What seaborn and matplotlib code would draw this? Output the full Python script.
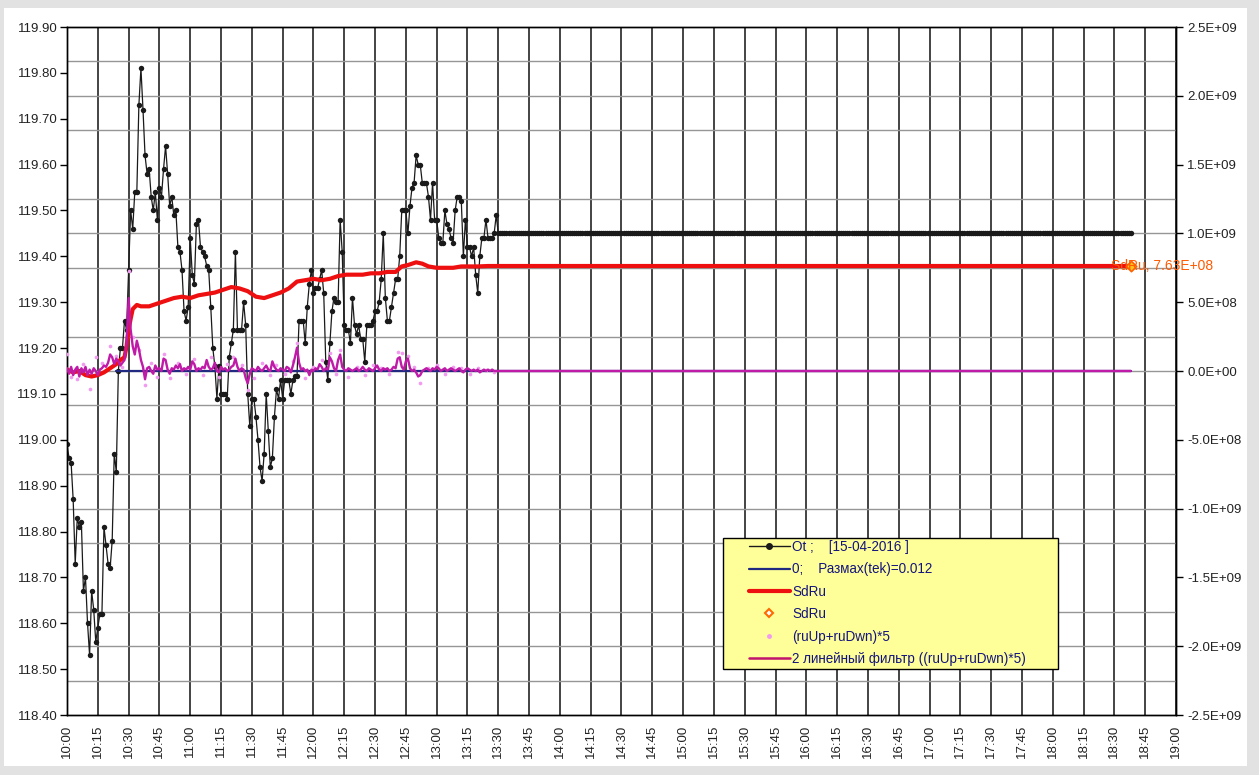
import numpy as np
import matplotlib
matplotlib.use("Agg")
import matplotlib.pyplot as plt
from matplotlib.ticker import MultipleLocator, FixedLocator, FuncFormatter
from matplotlib.lines import Line2D
from matplotlib.patches import Rectangle
import seaborn as sns

sns.set_style("white")
plt.rcParams["font.family"] = ["Liberation Sans", "DejaVu Sans"]

# ---- time axis: minutes since 10:00 -------------------------------------
tick_minutes = list(range(0, 541, 15))
tick_labels = ["10:00", "10:15", "10:30", "10:45", "11:00", "11:15", "11:30", "11:45",
               "12:00", "12:15", "12:30", "12:45", "13:00", "13:15", "13:30", "13:45",
               "14:00", "14:15", "14:30", "14:45", "15:00", "15:15", "15:30", "15:45",
               "16:00", "16:15", "16:30", "16:45", "17:00", "17:15", "17:30", "17:45",
               "18:00", "18:15", "18:30", "18:45", "19:00"]

# ---- Ot: one value per minute, 10:00 .. 13:30 ---------------------------
ot_session = [
    118.99, 118.96, 118.95, 118.87, 118.73, 118.83, 118.81, 118.82, 118.67, 118.70,
    118.60, 118.53, 118.67, 118.63, 118.56, 118.59, 118.62, 118.62, 118.81, 118.77,
    118.73, 118.72, 118.78, 118.97, 118.93, 119.15, 119.20, 119.20, 119.26, 119.24,
    119.37, 119.50, 119.46, 119.54, 119.54, 119.73, 119.81, 119.72, 119.62, 119.58,
    119.59, 119.53, 119.50, 119.54, 119.48, 119.55, 119.53, 119.59, 119.64, 119.58,
    119.51, 119.53, 119.49, 119.50, 119.42, 119.41, 119.37, 119.28, 119.26, 119.29,
    119.44, 119.36, 119.34, 119.47, 119.48, 119.42, 119.41, 119.40, 119.38, 119.37,
    119.29, 119.20, 119.16, 119.09, 119.16, 119.10, 119.10, 119.10, 119.09, 119.18,
    119.21, 119.24, 119.41, 119.24, 119.24, 119.24, 119.30, 119.25, 119.10, 119.03,
    119.09, 119.09, 119.05, 119.00, 118.94, 118.91, 118.97, 119.10, 119.02, 118.94,
    118.96, 119.05, 119.11, 119.09, 119.13, 119.09, 119.13, 119.13, 119.13, 119.10,
    119.13, 119.14, 119.14, 119.26, 119.26, 119.26, 119.21, 119.29, 119.34, 119.37,
    119.32, 119.33, 119.33, 119.35, 119.37, 119.32, 119.17, 119.13, 119.21, 119.28,
    119.31, 119.30, 119.30, 119.48, 119.41, 119.25, 119.24, 119.24, 119.21, 119.31,
    119.25, 119.23, 119.25, 119.22, 119.22, 119.17, 119.25, 119.25, 119.25, 119.26,
    119.28, 119.28, 119.30, 119.35, 119.45, 119.31, 119.26, 119.26, 119.29, 119.32,
    119.35, 119.35, 119.40, 119.50, 119.50, 119.50, 119.45, 119.51, 119.55, 119.56,
    119.62, 119.60, 119.60, 119.56, 119.56, 119.56, 119.53, 119.48, 119.56, 119.48,
    119.48, 119.44, 119.43, 119.43, 119.50, 119.47, 119.46, 119.44, 119.43, 119.50,
    119.53, 119.53, 119.52, 119.40, 119.48, 119.42, 119.42, 119.40, 119.42, 119.36,
    119.32, 119.40, 119.44, 119.44, 119.48, 119.44, 119.44, 119.44, 119.45, 119.49,
    119.45,
]
last_minute = 518          # 18:38, end of the projected tail
ot_tail_value = 119.45
ot_values = ot_session + [ot_tail_value] * (last_minute - (len(ot_session) - 1))
ot_minutes = list(range(0, last_minute + 1))

# ---- SdRu (right axis, units of 1e8) -------------------------------------
sdru_minutes = [0, 3, 6, 9, 12, 15, 18, 21, 24, 26, 28, 29, 30, 31, 32, 34, 36, 40, 44, 48,
                52, 56, 60, 64, 68, 72, 76, 80, 84, 88, 92, 96, 100, 104, 108, 112, 116, 120,
                124, 128, 132, 136, 140, 144, 148, 152, 156, 160, 163, 166, 170, 173, 176,
                180, 184, 188, 192, 196, 200, 205, 210, 518]
sdru_e8 = [0.1, -0.1, 0.0, -0.3, -0.4, -0.3, -0.1, 0.2, 0.5, 0.8, 1.0, 1.8, 3.0, 3.8, 4.5,
           4.8, 4.7, 4.7, 4.9, 5.1, 5.3, 5.4, 5.3, 5.5, 5.6, 5.7, 5.9, 6.1, 6.0, 5.8, 5.4,
           5.3, 5.5, 5.7, 6.0, 6.5, 6.6, 6.7, 6.6, 6.7, 6.9, 7.0, 7.0, 7.0, 7.1, 7.1, 7.2,
           7.2, 7.6, 7.7, 7.9, 7.8, 7.6, 7.5, 7.5, 7.5, 7.6, 7.6, 7.6, 7.63, 7.63, 7.63]

# ---- 2-pole filter of (ruUp+ruDwn)*5, per minute (units of 1e8) ----------
filt_session_e8 = [
    0.2, -0.2, 0.3, -0.3, 0.1, 0.3, -0.4, 0.2, -0.1, 0.3,
    -0.3, 0.1, -0.2, 0.2, 0.0, -0.3, 0.1, 0.2, 0.4, 0.3,
    0.6, 1.2, 1.0, 0.5, 0.9, 0.7, 0.4, 0.6, 0.8, 2.0,
    5.3, 3.0, 1.8, 1.2, 2.2, 1.6, 0.8, 0.3, -0.6, 0.2,
    0.3, 0.0, -0.2, 0.4, 0.1, 0.2, 0.0, 0.9, 0.8, 0.1,
    -0.2, 0.2, 0.1, 0.4, 0.2, 0.5, 0.0, 0.2, 0.1, 0.3,
    0.1, 0.7, 0.5, 0.0, 0.2, 0.1, 0.3, 0.2, 0.8, 0.3,
    0.1, 0.2, 0.6, 0.0, -0.1, 0.3, 0.1, 0.2, 0.0, 0.1,
    0.3, 0.4, 0.9, 0.3, 0.0, 0.2, 0.1, -0.5, -0.9, -0.2,
    0.2, 0.1, 0.0, 0.3, 0.1, 0.0, 0.2, 0.4, 0.1, 0.0,
    0.7, 0.3, 0.1, 0.0, 0.2, 0.1, 0.0, 0.3, 0.2, -0.1,
    0.4, 1.0, 1.7, 0.6, 0.1, 0.2, 0.0, 0.1, -0.3, 0.1,
    0.0, 0.2, 0.1, 0.5, 0.3, 0.0, 0.2, 0.1, 1.0, 0.7,
    0.2, 0.0, 0.8, 1.2, 0.3, 0.1, 0.0, 0.2, 0.1, 0.0,
    0.1, 0.2, 0.0, 0.1, 0.3, 0.1, 0.0, 0.2, 0.1, 0.0,
    0.2, 0.4, 0.1, 0.0, 0.2, 0.1, 0.2, 0.0, 0.1, 0.3,
    0.2, 0.9, 1.0, 0.3, 0.1, 0.7, 0.9, 0.2, 0.0, 0.1,
    -0.1, -0.4, -0.3, 0.0, 0.1, 0.2, 0.1, 0.0, 0.2, 0.1,
    0.3, 0.2, 0.0, 0.1, 0.2, 0.0, 0.1, 0.2, 0.1, 0.0,
    0.1, 0.2, 0.0, -0.1, 0.1, 0.2, 0.1, 0.0, 0.1, 0.0,
    0.1, -0.1, 0.0, 0.1, 0.0, 0.1, 0.0, 0.1, 0.0, 0.0,
    0.0,
]
filt_minutes = list(range(len(filt_session_e8))) + [last_minute]
filt_e8 = filt_session_e8 + [0.0]

# ---- raw (ruUp+ruDwn)*5 points (units of 1e8) ----------------------------
raw_minutes = [0, 2, 5, 8, 11, 14, 17, 21, 24, 27, 30, 32, 35, 38, 41, 44, 47, 50, 54, 58,
               62, 66, 70, 74, 78, 81, 85, 88, 91, 95, 99, 102, 106, 110, 112, 116, 120, 124,
               128, 131, 133, 137, 141, 145, 149, 153, 157, 161, 163, 166, 169, 172, 176,
               180, 184, 188, 192, 196, 200, 204, 208]
raw_e8 = [1.2, -0.4, -0.6, 0.5, -1.3, 1.0, 0.6, 1.8, 1.1, 0.3, 7.3, 2.5, 1.5, -1.0, 0.6,
          -0.4, 1.2, -0.5, 0.6, -0.2, 0.9, -0.3, 1.0, -0.4, 0.5, 1.0, 0.4, -1.4, -0.5, 0.6,
          -0.3, 0.4, -0.2, 0.7, 2.0, -0.5, 0.3, 0.8, 1.3, -0.2, 1.5, -0.4, 0.3, -0.3, 0.4,
          0.2, -0.2, 1.4, 1.3, 1.1, 0.3, -0.9, 0.2, 0.4, -0.2, 0.3, 0.2, -0.2, 0.2, 0.1, -0.1]

# ---- zero reference line ---------------------------------------------------
zero_minutes = [24, last_minute]
zero_values = [0.0, 0.0]

legend_labels = ["Ot ;    [15-04-2016 ]", "0;    Размах(tek)=0.012", "SdRu", "SdRu",
                 "(ruUp+ruDwn)*5", "2 линейный фильтр ((ruUp+ruDwn)*5)"]

E8 = 1e8
W, H = 1259, 775

fig = plt.figure(figsize=(W / 100, H / 100), dpi=100)
fig.patch.set_facecolor("#e2e2e2")
fig.patches.append(Rectangle((4 / W, 9 / H), (1247 - 4) / W, (767 - 9) / H,
                             transform=fig.transFigure, facecolor="white",
                             edgecolor="none", zorder=-5))

ax = fig.add_axes([67 / W, 1 - 715 / H, (1176 - 67) / W, (715 - 27) / H])
ax.set_facecolor("white")
ax2 = ax.twinx()

# left axis: price
sns.lineplot(x=ot_minutes, y=ot_values, ax=ax, color="#1a1a1a", linewidth=0.9,
             marker="o", markersize=3.9, markeredgewidth=0, estimator=None,
             legend=False, zorder=3)

# right axis
sns.lineplot(x=zero_minutes, y=zero_values, ax=ax2, color="#1f2a80", linewidth=1.6,
             estimator=None, legend=False, zorder=2)
sns.lineplot(x=sdru_minutes, y=np.array(sdru_e8) * E8, ax=ax2, color="#ee1010",
             linewidth=3.0, estimator=None, legend=False, zorder=3)
sns.scatterplot(x=raw_minutes, y=np.array(raw_e8) * E8, ax=ax2, color="#f29af0",
                s=7, linewidth=0, legend=False, zorder=4)
sns.lineplot(x=filt_minutes, y=np.array(filt_e8) * E8, ax=ax2, color="#bf1aa8",
             linewidth=1.7, estimator=None, legend=False, zorder=5)
sns.scatterplot(x=[sdru_minutes[-1]], y=[sdru_e8[-1] * E8], ax=ax2, marker="D", s=28,
                facecolor="#ffc21a", edgecolor="#ff6000", linewidth=1.2,
                legend=False, zorder=6)
ax2.text(sdru_minutes[-1] - 9.5, sdru_e8[-1] * E8, f"SdRu, {sdru_e8[-1] * E8:.2E}",
         color="#ff5a00", fontsize=10, ha="left", va="center", zorder=7,
         clip_on=False)

# axes, ticks and grid
ax.set_xlim(0, 540)
ax.set_ylim(118.40, 119.90)
ax2.set_ylim(-2.5e9, 2.5e9)
ax.set_xticks(tick_minutes)
ax.set_xticklabels(tick_labels, rotation=90)
ax.yaxis.set_major_locator(MultipleLocator(0.1))
ax.yaxis.set_major_formatter(FuncFormatter(lambda v, p: f"{v:.2f}"))
ax.yaxis.set_minor_locator(FixedLocator(np.linspace(118.40, 119.90, 21)))
ax2.yaxis.set_major_locator(MultipleLocator(5e8))
ax2.yaxis.set_major_formatter(FuncFormatter(lambda v, p: f"{v:.1E}"))

ax.grid(axis="x", which="major", color="#111111", linewidth=1.1)
ax.grid(axis="y", which="minor", color="#969696", linewidth=1.0)
ax.grid(axis="y", which="major", visible=False)
ax.set_axisbelow(True)
ax.tick_params(axis="y", which="minor", length=0)
ax.tick_params(axis="both", which="major", direction="out", length=5, width=1,
               color="black", labelsize=9.5, labelcolor="#222222", pad=2)
ax2.tick_params(axis="y", which="major", direction="out", length=5, width=1,
                color="black", labelsize=9.5, labelcolor="#222222", pad=3)
for a in (ax, ax2):
    a.set_xlabel("")
    a.set_ylabel("")
    for s in a.spines.values():
        s.set_color("black")
        s.set_linewidth(1.0)

# legend: yellow box with the entries inset from its left edge
ax2.add_patch(Rectangle((723 / W, 1 - 669 / H), (1058 - 723) / W, (669 - 538) / H,
                        transform=fig.transFigure, facecolor="#ffff99",
                        edgecolor="black", linewidth=1.0, zorder=9, clip_on=False))
handles = [
    Line2D([], [], color="#1a1a1a", linewidth=1.0, marker="o", markersize=4),
    Line2D([], [], color="#1f2a80", linewidth=1.6),
    Line2D([], [], color="#ee1010", linewidth=3.0),
    Line2D([], [], linestyle="none", marker="D", markersize=4.5, markerfacecolor="white",
           markeredgecolor="#ff6a00", markeredgewidth=1.5),
    Line2D([], [], linestyle="none", marker="o", markersize=2.5, color="#f29af0"),
    Line2D([], [], color="#c0146e", linewidth=1.8),
]
leg = ax2.legend(handles, legend_labels, loc="upper left",
                 bbox_to_anchor=(749 / W, 1 - 540 / H),
                 bbox_transform=fig.transFigure, numpoints=1, frameon=False,
                 fontsize=9.75, handlelength=3.0, handletextpad=0.2,
                 labelspacing=0.62, borderpad=0.0, borderaxespad=0)
leg.set_zorder(10)
for t in leg.get_texts():
    t.set_color("#14147e")

fig.savefig("out.png", dpi=100, facecolor=fig.get_facecolor())
